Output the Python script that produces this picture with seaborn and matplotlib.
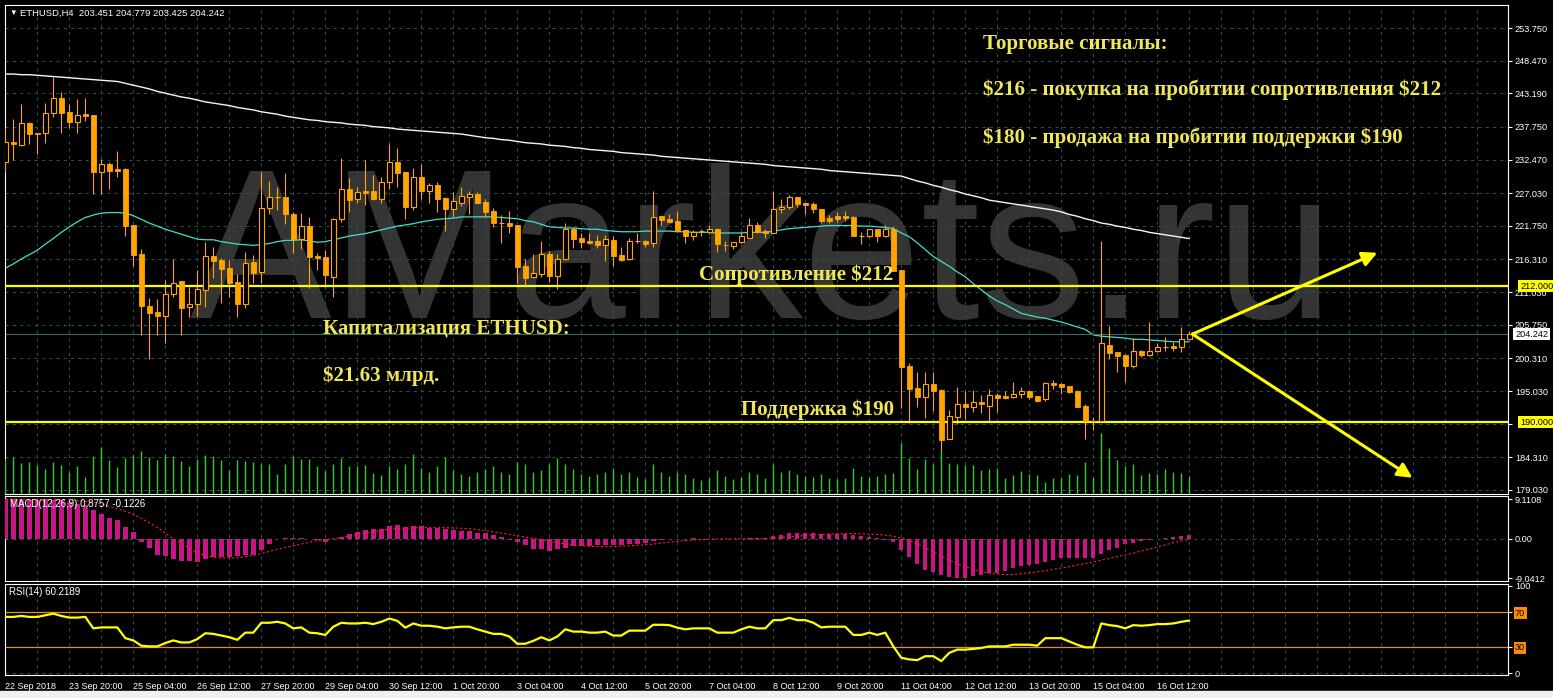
import numpy as np
import matplotlib
matplotlib.use("Agg")
import matplotlib.pyplot as plt
import matplotlib.transforms as mtrans
import seaborn as sns

# -------------------------
# Data (H4 candles 22 Sep 12:00 .. 17 Oct 04:00)
# -------------------------
opens = [232.13, 235.37, 234.83, 238.39, 236.72, 236.71, 239.95, 242.37, 240.11, 238.60,
         239.84, 239.68, 230.52, 231.76, 231.00, 230.95, 221.89, 217.20, 208.73, 207.82,
         207.23, 210.68, 212.83, 208.57, 209.06, 211.37, 216.88, 216.23, 214.88, 212.67,
         209.17, 215.96, 214.23, 224.58, 226.40, 226.41, 223.67, 219.62, 221.73, 216.93,
         216.77, 213.53, 222.81, 227.66, 226.15, 227.39, 227.39, 226.10, 228.79, 232.02,
         230.41, 224.85, 229.60, 227.44, 228.36, 226.20, 224.48, 225.50, 226.47, 226.90,
         225.55, 224.15, 222.16, 222.16, 221.89, 215.26, 213.53, 214.02, 217.20, 213.69,
         216.34, 221.19, 219.78, 219.30, 219.30, 218.66, 219.46, 217.04, 216.34, 219.30,
         219.36, 218.93, 223.35, 222.86, 222.54, 221.08, 220.16, 220.90, 220.81, 221.24,
         218.72, 218.55, 219.09, 219.84, 221.89, 220.97, 220.65, 224.42, 224.75, 226.36,
         225.45, 225.28, 224.42, 222.97, 223.35, 223.35, 223.13, 220.16, 220.16, 221.24,
         220.16, 221.24, 214.61, 199.08, 195.58, 194.02, 196.23, 195.20, 187.22, 190.89,
         192.94, 192.40, 193.32, 192.67, 194.39, 194.23, 194.12, 194.50, 195.04, 194.23,
         193.75, 196.39, 196.17, 195.85, 195.04, 192.62, 190.19, 190.19, 202.48, 201.40,
         200.86, 199.13, 201.51, 200.86, 201.56, 202.21, 202.37, 202.21, 203.451]
highs = [237.58, 238.98, 241.46, 238.55, 236.72, 241.67, 245.88, 243.34, 241.46, 242.27,
         242.43, 239.68, 232.56, 232.13, 233.86, 231.05, 221.89, 217.95, 210.14, 209.92,
         212.99, 216.39, 212.83, 211.92, 214.61, 219.09, 218.28, 216.50, 216.23, 213.96,
         217.47, 217.04, 230.41, 229.00, 228.03, 230.24, 224.05, 223.77, 223.13, 217.31,
         217.85, 223.07, 232.72, 229.44, 228.09, 232.40, 229.97, 229.60, 234.99, 234.29,
         230.41, 231.05, 231.70, 228.63, 228.79, 226.47, 227.28, 227.98, 227.39, 227.28,
         226.10, 224.58, 223.50, 224.21, 221.89, 216.34, 217.15, 219.30, 217.74, 217.15,
         222.16, 221.51, 220.54, 220.54, 220.27, 220.27, 220.11, 218.39, 219.73, 220.54,
         219.46, 227.44, 223.35, 223.67, 224.15, 221.08, 221.08, 221.19, 221.89, 221.35,
         219.30, 219.09, 220.81, 222.97, 222.38, 221.19, 227.44, 226.04, 226.74, 226.36,
         225.45, 225.66, 224.42, 223.50, 224.05, 224.15, 223.40, 220.81, 221.24, 221.24,
         221.89, 221.73, 214.61, 199.52, 198.17, 198.17, 198.17, 195.31, 191.97, 195.74,
         195.09, 195.20, 194.39, 195.36, 194.66, 194.99, 196.50, 195.74, 195.09, 194.23,
         196.55, 196.82, 196.28, 195.85, 195.20, 192.94, 190.89, 219.35, 205.55, 201.40,
         201.02, 203.56, 201.67, 206.15, 202.86, 203.72, 203.02, 205.45, 204.779]
lows = [230.51, 232.40, 234.67, 234.94, 233.30, 235.20, 239.41, 236.71, 237.52, 236.82,
        238.71, 226.90, 226.90, 227.70, 229.71, 220.16, 215.31, 204.10, 200.27, 204.05,
        202.86, 210.30, 204.10, 207.06, 207.17, 208.68, 213.26, 209.33, 210.30, 206.96,
        208.41, 212.56, 212.56, 223.67, 224.32, 222.05, 217.31, 218.01, 211.65, 214.61,
        211.92, 210.30, 222.43, 224.05, 225.39, 225.12, 225.93, 225.50, 227.71, 228.09,
        222.81, 224.32, 226.04, 225.39, 224.05, 220.97, 223.24, 224.96, 223.61, 225.39,
        223.24, 221.62, 219.03, 220.54, 212.45, 212.18, 213.42, 213.53, 212.72, 211.48,
        216.23, 218.12, 218.22, 218.82, 218.12, 216.07, 215.26, 216.12, 216.23, 218.93,
        218.39, 218.39, 221.89, 222.43, 220.81, 219.03, 219.46, 220.16, 220.43, 217.58,
        217.74, 218.01, 219.03, 219.73, 220.54, 219.73, 220.54, 223.78, 224.42, 224.75,
        223.61, 223.78, 222.16, 222.16, 222.43, 222.59, 220.11, 218.82, 220.00, 219.19,
        220.00, 214.50, 192.24, 189.81, 192.51, 190.62, 191.86, 184.96, 187.22, 189.70,
        190.51, 191.59, 191.43, 190.08, 191.59, 193.69, 193.85, 193.96, 193.75, 193.32,
        193.48, 195.36, 194.55, 194.66, 192.51, 187.22, 188.73, 190.19, 200.16, 198.17,
        196.55, 198.71, 200.59, 200.75, 201.40, 201.56, 201.56, 201.40, 203.425]
closes = [235.36, 234.94, 238.33, 236.66, 236.60, 239.95, 242.37, 240.06, 238.60, 239.63,
          239.57, 230.52, 231.70, 230.62, 230.68, 221.78, 217.04, 208.84, 207.71, 207.23,
          210.68, 212.45, 208.52, 209.06, 211.48, 216.82, 216.12, 214.77, 212.56, 209.11,
          215.69, 214.18, 224.58, 226.36, 226.43, 223.61, 219.62, 221.73, 216.77, 216.61,
          213.80, 222.86, 227.66, 225.93, 227.17, 227.12, 226.10, 228.79, 232.02, 230.35,
          224.85, 229.60, 227.39, 228.36, 226.10, 224.48, 225.77, 226.58, 226.90, 225.50,
          224.05, 222.16, 222.20, 221.73, 215.15, 213.37, 214.07, 217.20, 213.69, 216.34,
          221.24, 219.68, 219.09, 219.03, 218.66, 219.57, 216.88, 216.23, 219.30, 219.32,
          218.82, 223.24, 222.70, 222.43, 220.97, 220.16, 220.81, 220.94, 221.24, 218.77,
          218.70, 219.09, 220.11, 221.89, 220.81, 220.65, 224.42, 224.75, 226.36, 225.28,
          225.18, 224.42, 222.59, 222.59, 222.92, 222.97, 220.16, 220.18, 221.24, 220.11,
          221.24, 214.50, 198.97, 195.36, 194.02, 196.23, 195.09, 187.12, 191.00, 192.94,
          192.40, 193.32, 192.89, 194.39, 193.96, 193.85, 194.55, 195.04, 194.02, 193.48,
          196.28, 196.07, 195.74, 194.82, 192.51, 190.19, 190.21, 202.75, 201.24, 200.75,
          199.13, 201.51, 200.86, 201.56, 202.21, 202.23, 202.05, 203.40, 204.242]
volumes = [3500, 3700, 3100, 3200, 2900, 2500, 3200, 2900, 2200, 2800,
           1700, 3800, 4700, 3400, 2700, 3600, 3900, 4300, 3700, 3400,
           4000, 3800, 3300, 2800, 3500, 3900, 3800, 3400, 2400, 3400,
           3300, 3200, 3000, 3000, 2000, 3000, 3800, 3500, 3500, 2800,
           2300, 3000, 3600, 2800, 2800, 2900, 2100, 1900, 2800, 2500,
           3000, 4000, 2600, 2200, 2800, 3700, 2400, 2000, 1800, 2200,
           2500, 2800, 2200, 2000, 3200, 3000, 2200, 2400, 3000, 3600,
           3000, 2500, 2000, 1800, 2000, 2200, 2600, 2000, 2200, 1700,
           1500, 3000, 2200, 1800, 2200, 2000, 1600, 1400, 1600, 2400,
           1800, 1500, 1700, 2200, 2000, 1600, 3000, 2200, 2400, 2000,
           1800, 1700, 2000, 1600, 1500, 1600, 2600, 1800, 1700, 1800,
           2000, 2100, 5100, 3600, 2500, 3500, 3000, 4300, 3100, 3000,
           2900, 2900, 2400, 2500, 2600, 1600, 1900, 2300, 2000, 1900,
           1200, 1600, 1600, 2000, 1900, 3200, 1700, 6100, 4600, 3400,
           2800, 3000, 1900, 2100, 2000, 2500, 2200, 2100, 1800]
ma_slow = [246.3, 246.3, 246.2, 246.2, 246.1, 246.0, 245.9,
           245.8, 245.7, 245.6, 245.5, 245.4, 245.3, 245.2, 245.1,
           244.8, 244.5, 244.2, 243.9, 243.5, 243.2,
           242.9, 242.6, 242.4, 242.1, 241.8, 241.6,
           241.4, 241.2, 240.9, 240.7, 240.5, 240.2, 240.0,
           239.8, 239.5, 239.3, 239.1,
           238.9, 238.8, 238.6, 238.5, 238.4, 238.2, 238.1, 238.0, 237.8, 237.7, 237.6, 237.4, 237.3,
           237.2, 237.1, 237.0, 236.9, 236.8, 236.7, 236.6,
           236.4, 236.2, 236.0, 235.9, 235.7, 235.6, 235.4, 235.2, 235.1,
           235.0, 234.8, 234.7, 234.6, 234.4, 234.3, 234.1, 234.0,
           233.9, 233.8, 233.6, 233.5, 233.4, 233.3, 233.2, 233.0, 232.9,
           232.8, 232.7, 232.6, 232.5, 232.4, 232.3,
           232.2, 232.1, 232.0, 231.9, 231.8, 231.7, 231.5, 231.4,
           231.3, 231.2, 231.1, 231.0, 230.9, 230.7, 230.6,
           230.5, 230.4, 230.3, 230.2, 230.1, 230.0, 229.9, 229.8,
           229.4, 229.0, 228.7, 228.3, 228.0, 227.6, 227.3, 226.9, 226.6, 226.3, 225.9,
           225.7, 225.5, 225.3, 225.1, 224.9, 224.7, 224.5, 224.3,
           224.0, 223.6, 223.3, 222.9, 222.6, 222.2,
           222.0, 221.7, 221.5, 221.2, 221.0, 220.7, 220.5,
           220.3, 220.1, 219.9, 219.7]
ma_fast = [214.9, 215.6, 216.4, 217.1, 217.8, 218.8, 219.7, 220.7, 221.6, 222.4,
           223.1, 223.5, 223.8, 223.9, 223.9, 223.8, 223.4, 222.8, 222.2, 221.7,
           221.2, 220.8, 220.4, 220.0, 219.6, 219.5, 219.5, 219.2, 219.0, 218.8,
           218.7, 218.6, 218.7, 218.9, 219.2, 219.4, 219.4, 219.5, 219.3, 219.1,
           219.2, 219.5, 219.8, 220.1, 220.3, 220.5, 220.8, 221.1, 221.4, 221.7,
           221.9, 222.1, 222.4, 222.6, 222.8, 222.9, 223.0, 223.2, 223.2, 223.2,
           223.2, 223.2, 223.1, 223.0, 222.9, 222.6, 222.4, 222.0, 221.6, 221.5,
           221.4, 221.4, 221.3, 221.2, 221.2, 221.0, 220.9, 220.8, 220.8, 220.8,
           220.9, 220.9, 220.9, 220.9, 220.8, 220.8, 220.7, 220.7, 220.7, 220.6,
           220.6, 220.6, 220.6, 220.7, 220.7, 220.7, 220.9, 221.1, 221.3, 221.4,
           221.5, 221.6, 221.7, 221.8, 221.8, 221.8, 221.8, 221.7, 221.7, 221.6,
           221.5, 221.3, 220.6, 220.0, 219.0, 217.9, 216.8, 216.0, 215.2, 214.3,
           213.5, 212.4, 211.4, 210.4, 209.6, 209.0, 208.3, 207.6, 207.3, 207.0,
           206.8, 206.5, 206.2, 205.8, 205.4, 205.0, 204.1, 203.9, 203.8, 203.7,
           203.6, 203.4, 203.4, 203.3, 203.2, 203.1, 203.0, 203.0, 203.0]
macd_hist = [9.11, 9.05, 9.0, 8.96, 8.96, 8.96, 8.96, 8.96, 8.5, 7.96,
             7.7, 6.57, 5.64, 4.87, 4.25, 2.78, 1.54, -0.77, -2.09, -3.63,
             -4.02, -4.57, -5.03, -5.19, -5.27, -4.65, -4.26, -4.26, -4.26, -4.02,
             -3.79, -3.63, -2.47, -1.31, -0.15, 0.15, 0.15, 0.15, 0.0, -0.31,
             -0.77, -0.15, 0.46, 1.0, 1.54, 1.93, 2.16, 2.32, 2.94, 3.09,
             2.78, 2.94, 2.94, 2.47, 2.47, 2.16, 2.01, 1.78, 1.78, 1.39,
             1.24, 0.77, 0.4, -0.3, -0.77, -1.47, -2.24, -2.24, -2.71, -2.32,
             -2.17, -1.70, -1.70, -1.70, -1.47, -1.47, -1.47, -1.47, -1.31, -1.16,
             -1.08, -0.54, -0.31, -0.15, -0.1, 0.05, 0.1, 0.05, -0.05, -0.15,
             -0.15, -0.1, 0.0, 0.1, 0.15, 0.2, 0.62, 0.85, 1.24, 1.39,
             1.39, 1.39, 1.16, 1.16, 1.16, 1.16, 0.85, 0.62, 0.39, 0.1,
             -0.3, -0.77, -2.47, -4.25, -5.72, -7.11, -7.73, -8.27, -8.8, -9.0412,
             -8.95, -8.5, -8.27, -7.89, -7.89, -7.34, -6.73, -6.18, -5.95, -5.72,
             -5.41, -4.95, -4.41, -4.41, -4.33, -4.41, -4.41, -3.4, -2.63, -2.09,
             -1.31, -0.93, -0.54, -0.31, 0.0, 0.23, 0.39, 0.62, 0.8757]
macd_signal = [9.1, 9.1, 9.1, 9.0, 9.0, 9.0, 9.0, 9.0, 8.9, 8.8, 8.6,
               8.4, 8.0, 7.4, 6.9, 6.3, 5.6, 4.7, 3.7, 2.6, 1.3,
               0.0, -1.1, -2.2, -3.2, -3.9, -4.2, -4.4, -4.4, -4.4, -4.1,
               -3.8, -3.4, -2.9, -2.4, -2.0, -1.6, -1.2, -0.8, -0.4, -0.2,
               0.0, 0.3, 0.6, 1.0, 1.3, 1.6, 2.0, 2.2, 2.3, 2.4,
               2.5, 2.55, 2.55, 2.55, 2.55, 2.5, 2.4, 2.3, 2.1, 1.9,
               1.6, 1.3, 1.0, 0.7, 0.4, 0.1, -0.2, -0.6, -0.9, -1.2,
               -1.4, -1.6, -1.7, -1.8, -1.8, -1.8, -1.7, -1.6, -1.5, -1.4,
               -1.2, -1.0, -0.8, -0.6, -0.4, -0.3, -0.2, -0.1, -0.05, 0.0,
               0.0, 0.0, 0.0, 0.0, 0.05, 0.15, 0.3, 0.45, 0.6, 0.75,
               0.9, 1.0, 1.1, 1.15, 1.2, 1.2, 1.15, 1.1, 1.0, 0.85,
               0.6, 0.2, -0.4, -1.2, -2.1, -3.1, -4.0, -4.9, -5.7, -6.4,
               -7.0, -7.5, -7.9, -8.1, -8.2, -8.2, -8.0, -7.8, -7.6, -7.3,
               -7.0, -6.7, -6.4, -6.0, -5.7, -5.3, -4.9, -4.5, -4.1, -3.7,
               -3.3, -2.8, -2.4, -1.9, -1.4, -0.9, -0.5, -0.1226]
rsi = [64.4, 64.4, 65.5, 64.4, 64.4, 66.3, 68.1, 65.5, 63.6, 63.6, 64.4,
       51.3, 52.4, 52.4, 52.4, 40.1, 37.5, 31.5, 30.7, 30.7, 34.5,
       37.5, 35.2, 35.2, 39.0, 45.7, 45.0, 43.1, 41.2, 38.2, 46.4,
       46.4, 57.7, 57.7, 58.8, 56.9, 51.3, 52.4, 46.4, 45.7, 43.8,
       53.2, 57.7, 56.9, 56.9, 57.7, 56.2, 58.8, 62.5, 59.9, 52.1,
       56.9, 54.3, 54.3, 53.2, 51.3, 52.4, 53.2, 53.2, 50.2, 47.6,
       45.0, 45.0, 42.0, 33.7, 33.7, 37.0, 41.2, 37.5, 42.0, 50.2,
       47.6, 47.6, 46.4, 46.4, 47.6, 43.1, 43.1, 48.7, 48.7, 48.7,
       55.4, 55.4, 55.0, 52.1, 50.2, 51.3, 51.3, 51.3, 46.4, 46.4,
       46.4, 50.2, 53.2, 51.3, 51.3, 60.7, 60.7, 63.3, 60.7, 60.7,
       57.7, 52.4, 53.2, 53.2, 53.2, 43.8, 43.8, 46.4, 43.8, 46.4,
       30.7, 17.7, 15.8, 15.0, 19.5, 19.5, 13.9, 23.3, 27.0, 27.0,
       27.8, 28.9, 30.7, 30.7, 30.7, 32.6, 32.6, 32.6, 31.5, 40.1,
       40.1, 40.1, 36.4, 32.6, 29.6, 29.6, 56.9, 55.0, 53.9, 51.3,
       55.0, 54.3, 55.0, 56.2, 56.2, 56.9, 58.8, 60.2189]

price_ticks = [253.75, 248.47, 243.19, 237.75, 232.47, 227.03, 221.75, 216.31,
               211.03, 205.75, 200.31, 195.03, 189.75, 184.31, 179.03]
time_labels = ["22 Sep 2018", "23 Sep 20:00", "25 Sep 04:00", "26 Sep 12:00",
               "27 Sep 20:00", "29 Sep 04:00", "30 Sep 12:00", "1 Oct 20:00",
               "3 Oct 04:00", "4 Oct 12:00", "5 Oct 20:00", "7 Oct 04:00",
               "8 Oct 12:00", "9 Oct 20:00", "11 Oct 04:00", "12 Oct 12:00",
               "13 Oct 20:00", "15 Oct 04:00", "16 Oct 12:00"]
resistance = 212.0
support = 190.0
buy_target = 217.4
sell_target = 181.0

# -------------------------
# Style
# -------------------------
sns.set_theme(style="dark", rc={
    "figure.facecolor": "black", "axes.facecolor": "black",
    "axes.edgecolor": "white", "text.color": "white",
    "xtick.color": "white", "ytick.color": "white", "axes.grid": False,
})
plt.rcParams['font.family'] = ['Liberation Sans', 'DejaVu Sans']

W, H = 1553, 698
CANDLE = '#FFA500'
GRID = '#2F4F4F'
TXT = '#EFE65A'
dash = (0, (3, 4))


def fx(px):
    return px / W


def fy(py):
    return 1 - py / H


n = len(closes)
x = np.arange(n)
o, h, l, c = map(np.array, (opens, highs, lows, closes))

fig = plt.figure(figsize=(W / 100, H / 100), dpi=100)
ax = fig.add_axes([fx(5), fy(494), 1503 / W, 489 / H])
ax_macd = fig.add_axes([fx(5), fy(581), 1503 / W, 85 / H], sharex=ax)
ax_rsi = fig.add_axes([fx(5), fy(675), 1503 / W, 91 / H], sharex=ax)

# volumes sit on their own hidden scale under the main panel
vol_ax = ax.twinx()
vol_ax.axis('off')
vol_ax.set_ylim(0, 48900)
vol_ax.vlines(x, 0, volumes, color='#2ECC2E', lw=1.0)

xmin, xmax = -0.04, 187.84
grid_x = np.arange(4, 188, 4)

for a in (ax, ax_macd, ax_rsi):
    a.set_xlim(xmin, xmax)
    for s in a.spines.values():
        s.set_color('white')
        s.set_linewidth(0.8)
    a.vlines(grid_x, 0, 1, transform=a.get_xaxis_transform(), color=GRID,
             lw=0.75, linestyles=dash, zorder=1)
    a.yaxis.tick_right()
    a.tick_params(axis='y', labelsize=6.6, length=3, width=0.8, pad=2,
                  colors='white', left=False, labelleft=False,
                  right=True, labelright=True)

# --- main panel ---
ax.set_ylim(178.38, 257.47)
ax.set_yticks(price_ticks)
# the 189.750 level sits under the support price box, as in the terminal
ax.set_yticklabels(["" if abs(v - support) < 1 else f"{v:.3f}" for v in price_ticks])
ax.hlines(price_ticks, 0, 1, transform=ax.get_yaxis_transform(), color=GRID,
          lw=0.75, linestyles=dash, zorder=1)

ax.text(fx(190), fy(318), "AMarkets.ru", transform=fig.transFigure,
        fontsize=153, color='#343434', family='Liberation Sans',
        va='baseline', ha='left', zorder=0.5)

ax.vlines(x, l, h, color=CANDLE, lw=0.8, zorder=3)
bull = c >= o
body = np.maximum(np.abs(c - o), 0.02)
ax.bar(x[~bull], body[~bull], bottom=np.minimum(o, c)[~bull], width=0.6,
       color=CANDLE, edgecolor=CANDLE, lw=0.6, zorder=4)
ax.bar(x[bull], body[bull], bottom=np.minimum(o, c)[bull], width=0.6,
       color='black', edgecolor=CANDLE, lw=0.8, zorder=4)

sns.lineplot(x=x, y=ma_slow, ax=ax, color='#F5F5F5', lw=1, zorder=2,
             estimator=None, legend=False)
sns.lineplot(x=x, y=ma_fast, ax=ax, color='#40E0D0', lw=0.9, zorder=2,
             estimator=None, legend=False)

ax.axhline(closes[-1], color='#3E6868', lw=0.8, zorder=2)
ax.axhline(resistance, color='#FFFF00', lw=1.6, zorder=3)
ax.axhline(support, color='#FFFF00', lw=1.6, zorder=3)

ax.annotate('', xy=(x[-1] + 23.5, buy_target), xytext=(x[-1] + 0.4, closes[-1]),
            arrowprops=dict(arrowstyle='-|>', color='#FFFF00', lw=2.2,
                            mutation_scale=22, shrinkA=0, shrinkB=0), zorder=6)
ax.annotate('', xy=(x[-1] + 27.9, sell_target), xytext=(x[-1] + 0.4, closes[-1]),
            arrowprops=dict(arrowstyle='-|>', color='#FFFF00', lw=2.2,
                            mutation_scale=22, shrinkA=0, shrinkB=0), zorder=6)

right = mtrans.blended_transform_factory(fig.transFigure, ax.transData)
for val, bg, px0 in ((resistance, '#FFFF00', 1520), (support, '#FFFF00', 1520),
                     (closes[-1], 'white', 1515)):
    ax.text(fx(px0), val, f"{val:.3f}", transform=right, fontsize=6.6,
            color='black', va='center', ha='left', clip_on=False, zorder=10,
            bbox=dict(boxstyle='square,pad=0.2', fc=bg, ec='none'))

# --- MACD panel ---
ax_macd.set_ylim(-9.68, 9.81)
ax_macd.bar(x, macd_hist, width=0.55, color='#C71585', lw=0, zorder=3)
sns.lineplot(x=x, y=macd_signal, ax=ax_macd, color='#FF2020', lw=0.8,
             linestyle=(0, (2, 2)), zorder=4, estimator=None, legend=False)
ax_macd.axhline(0, color=GRID, lw=0.75, linestyle=dash, zorder=1)
ax_macd.set_yticks([9.1108, 0, -9.0412])
ax_macd.set_yticklabels(['9.1108', '0.00', '-9.0412'])

# --- RSI panel ---
ax_rsi.set_ylim(-2, 102)
ax_rsi.axhline(70, color='#E0901E', lw=0.9, zorder=2)
ax_rsi.axhline(30, color='#E0901E', lw=0.9, zorder=2)
ax_rsi.axhline(0, color=GRID, lw=0.75, linestyle=dash, zorder=1)
sns.lineplot(x=x, y=rsi, ax=ax_rsi, color='#FFFF00', lw=1.6, zorder=3,
             estimator=None, legend=False)
ax_rsi.set_yticks([100, 70, 30, 0])
ax_rsi.set_yticklabels(['100', '70', '30', '0'])
for t in ax_rsi.get_yticklabels():
    if t.get_text() in ('70', '30'):
        t.set_color('black')
        t.set_bbox(dict(boxstyle='square,pad=0.15', fc='#FF8C00', ec='none'))

ax_rsi.set_xticks(np.arange(0, 8 * len(time_labels), 8))
ax_rsi.set_xticklabels(time_labels, ha='left')
ax_rsi.tick_params(axis='x', labelsize=6.5, length=3, width=0.8, pad=2,
                   colors='white')
for a in (ax, ax_macd):
    a.tick_params(axis='x', bottom=False, labelbottom=False)
for a in (ax, ax_macd, ax_rsi):
    a.set_xlabel('')
    a.set_ylabel('')

# --- indicator captions ---
fig.text(fx(9), fy(13), "\u25BC", fontsize=5.5, color='white', va='center')
fig.text(fx(20), fy(13), "ETHUSD,H4  203.451 204.779 203.425 204.242",
         fontsize=6.8, color='white', va='center')
fig.text(fx(10), fy(504), "MACD(12,26,9) 0.8757 -0.1226", fontsize=7,
         color='white', va='center')
fig.text(fx(9), fy(592), "RSI(14) 60.2189", fontsize=7, color='white',
         va='center')

# --- annotations ---
serif = dict(family='Liberation Serif', fontweight='bold', fontsize=15.1,
             color=TXT, va='baseline', parse_math=False)
fig.text(fx(983), fy(48.5), "Торговые сигналы:", **serif)
fig.text(fx(983), fy(95), "$216 - покупка на пробитии сопротивления $212", **serif)
fig.text(fx(983), fy(143), "$180 - продажа на пробитии поддержки $190", **serif)
fig.text(fx(893), fy(280), "Сопротивление $212", ha='right', **serif)
fig.text(fx(323), fy(333), "Капитализация ETHUSD:", **serif)
fig.text(fx(323), fy(380.5), "$21.63 млрд.", **serif)
fig.text(fx(741), fy(415.5), "Поддержка $190", **serif)

fig.patches.append(plt.Rectangle((0, 0), 1, 7 / H, transform=fig.transFigure,
                                 color='#F0F0F0', zorder=0))

fig.savefig("out.png", dpi=100, facecolor='black')
